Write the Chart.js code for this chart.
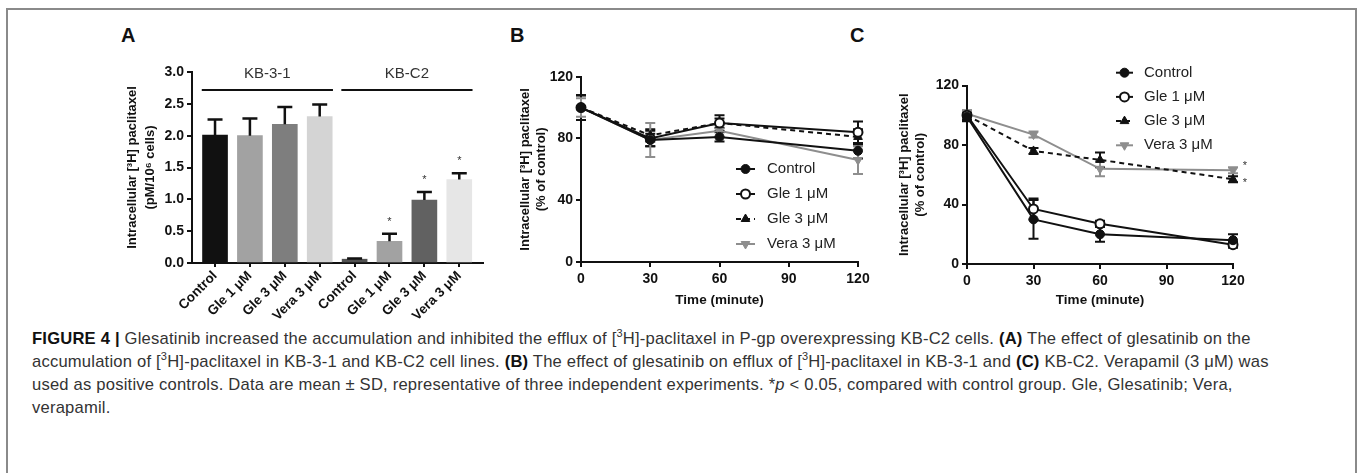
<!DOCTYPE html>
<html>
<head>
<meta charset="utf-8">
<script src="https://cdn.jsdelivr.net/npm/chart.js@4.4.1/dist/chart.umd.min.js"></script>
<style>
  html, body { margin: 0; padding: 0; background: #fff; }
  body { width: 1358px; height: 473px; overflow: hidden; position: relative; font-family: "Liberation Sans", Arial, sans-serif; }
  .frame { position: absolute; left: 6px; top: 8px; width: 1347px; height: 600px; border: 2px solid #8a8a8a; border-bottom: none; }
  .panel-label { position: absolute; font-weight: bold; font-size: 20px; line-height: 20px; color: #111; }
  canvas { position: absolute; }
  .caption { position: absolute; left: 32px; top: 327px; font-size: 16.6px; letter-spacing: 0.2px; line-height: 23px; color: #333; white-space: nowrap; }
  .caption b { color: #111; }
  .caption sup { font-size: 11px; line-height: 0; }
</style>
</head>
<body>
<div class="frame"></div>
<div class="panel-label" style="left:121px;top:25px">A</div>
<div class="panel-label" style="left:510px;top:25px">B</div>
<div class="panel-label" style="left:850px;top:25px">C</div>
<canvas id="chartA" width="390" height="290" style="left:110px;top:30px"></canvas>
<canvas id="chartB" width="375" height="290" style="left:505px;top:30px"></canvas>
<canvas id="chartC" width="440" height="290" style="left:890px;top:30px"></canvas>
<div class="caption">
  <div><b>FIGURE 4 |</b> Glesatinib increased the accumulation and inhibited the efflux of [<sup>3</sup>H]-paclitaxel in P-gp overexpressing KB-C2 cells. <b>(A)</b> The effect of glesatinib on the</div>
  <div>accumulation of [<sup>3</sup>H]-paclitaxel in KB-3-1 and KB-C2 cell lines. <b>(B)</b> The effect of glesatinib on efflux of [<sup>3</sup>H]-paclitaxel in KB-3-1 and <b>(C)</b> KB-C2. Verapamil (3 μM) was</div>
  <div>used as positive controls. Data are mean ± SD, representative of three independent experiments. *<i>p</i> &lt; 0.05, compared with control group. Gle, Glesatinib; Vera,</div>
  <div>verapamil.</div>
</div>
<script>
const FONT = '"Liberation Sans", Arial, sans-serif';

// panel A: accumulation
const accumLabels = ['Control', 'Gle 1 μM', 'Gle 3 μM', 'Vera 3 μM', 'Control', 'Gle 1 μM', 'Gle 3 μM', 'Vera 3 μM'];
const cellLines = ['KB-3-1', 'KB-C2'];
const accumMeans = [2.01, 2.00, 2.18, 2.30, 0.06, 0.34, 0.99, 1.31];
const accumSD = [0.245, 0.27, 0.27, 0.19, 0.01, 0.12, 0.125, 0.10];
const accumSignif = [0, 0, 0, 0, 0, 1, 1, 1];
const barColors = ['#111111', '#a2a2a2', '#7e7e7e', '#d4d4d4', '#525252', '#a2a2a2', '#616161', '#e6e6e6'];
const yTicksA = [0, 0.5, 1.0, 1.5, 2.0, 2.5, 3.0];

// panels B and C: efflux over time
const seriesNames = ['Control', 'Gle 1 μM', 'Gle 3 μM', 'Vera 3 μM'];
const timePoints = [0, 30, 60, 120];
const timeTicks = [0, 30, 60, 90, 120];
const percentTicks = [0, 40, 80, 120];

const effluxB_control = [100, 79, 81, 72];
const effluxB_gle1 = [100, 80, 90, 84];
const effluxB_gle3 = [100, 82, 90, 81];
const effluxB_vera = [100, 79, 85, 66];
const effluxB_controlSD = [8, 4, 3, 5];
const effluxB_gle1SD = [8, 5, 5, 7];
const effluxB_gle3SD = [8, 4, 3, 5];
const effluxB_veraSD = [6, 11, 4, 9];

const effluxC_control = [99, 30, 20, 16];
const effluxC_gle1 = [100, 37, 27, 13];
const effluxC_gle3 = [100, 76, 70, 57];
const effluxC_vera = [101, 87, 64, 63];
const effluxC_controlSD = [3, 13, 5, 4];
const effluxC_gle1SD = [3, 7, 2, 2];
const effluxC_gle3SD = [3, 2, 5, 2];
const effluxC_veraSD = [2, 2, 5, 2];
const effluxC_signif = [0, 0, 0, 1];

// ---- plugins ----
function drawErrors(chart, opts) {
  const ctx = chart.ctx;
  const yScale = chart.scales.y;
  chart.data.datasets.forEach((ds, i) => {
    if (!ds.errors) return;
    const meta = chart.getDatasetMeta(i);
    ctx.save();
    ctx.strokeStyle = ds.errorColor || ds.borderColor;
    ctx.lineWidth = opts.lineWidth;
    meta.data.forEach((el, j) => {
      const sd = ds.errors[j];
      if (!sd) return;
      const mean = ds.data[j].y;
      const yTop = yScale.getPixelForValue(mean + sd);
      const yBot = yScale.getPixelForValue(opts.upperOnly ? mean : mean - sd);
      const half = opts.capWidth / 2;
      ctx.beginPath();
      ctx.moveTo(el.x, yBot);
      ctx.lineTo(el.x, yTop);
      ctx.moveTo(el.x - half, yTop);
      ctx.lineTo(el.x + half, yTop);
      if (!opts.upperOnly) {
        ctx.moveTo(el.x - half, yBot);
        ctx.lineTo(el.x + half, yBot);
      }
      ctx.stroke();
    });
    ctx.restore();
  });
}

const errorBars = {
  id: 'errorBars',
  beforeDatasetsDraw(chart, args, opts) { if (opts.under) drawErrors(chart, opts); },
  afterDatasetsDraw(chart, args, opts) { if (!opts.under) drawErrors(chart, opts); }
};

const starMarks = {
  id: 'starMarks',
  afterDatasetsDraw(chart, args, opts) {
    const ctx = chart.ctx;
    const yScale = chart.scales.y;
    chart.data.datasets.forEach((ds, i) => {
      if (!ds.stars) return;
      const meta = chart.getDatasetMeta(i);
      meta.data.forEach((el, j) => {
        if (!ds.stars[j]) return;
        let x, y;
        if (opts.above) {
          x = el.x;
          y = yScale.getPixelForValue(ds.data[j].y + ds.errors[j]) - opts.gap;
        } else {
          x = el.x + opts.dx;
          y = el.y + (ds.starDy || 0);
        }
        ctx.save();
        ctx.fillStyle = opts.color;
        ctx.font = opts.font;
        ctx.textAlign = 'center';
        ctx.textBaseline = 'middle';
        ctx.fillText('*', x, y);
        ctx.restore();
      });
    });
  }
};

const groupBrackets = {
  id: 'groupBrackets',
  afterDraw(chart, args, opts) {
    const ctx = chart.ctx;
    const { x, y } = chart.scales;
    opts.groups.forEach(g => {
      const x0 = x.getPixelForValue(g.from - opts.overhang);
      const x1 = x.getPixelForValue(g.to + opts.overhang);
      ctx.save();
      ctx.strokeStyle = '#111';
      ctx.lineWidth = 2;
      ctx.beginPath();
      ctx.moveTo(x0, y.top + opts.lineOffset);
      ctx.lineTo(x1, y.top + opts.lineOffset);
      ctx.stroke();
      ctx.fillStyle = '#333';
      ctx.font = opts.font;
      ctx.textAlign = 'center';
      ctx.textBaseline = 'middle';
      ctx.fillText(g.name, (x0 + x1) / 2, y.top + opts.textOffset);
      ctx.restore();
    });
  }
};

const lineLegend = {
  id: 'lineLegend',
  afterDraw(chart, args, opts) {
    const ctx = chart.ctx;
    chart.data.datasets.forEach((ds, i) => {
      const yy = opts.y + i * opts.rowGap;
      ctx.save();
      ctx.strokeStyle = ds.borderColor;
      ctx.lineWidth = ds.borderWidth;
      ctx.setLineDash(ds.borderDash || []);
      ctx.beginPath();
      ctx.moveTo(opts.x, yy);
      ctx.lineTo(opts.x + opts.lineLen, yy);
      ctx.stroke();
      ctx.setLineDash([]);
      ctx.fillStyle = ds.pointBackgroundColor;
      ctx.strokeStyle = ds.pointBorderColor;
      ctx.lineWidth = ds.pointBorderWidth;
      Chart.helpers.drawPoint(ctx, {
        pointStyle: ds.pointStyle, radius: ds.pointRadius,
        rotation: ds.pointRotation || 0, borderWidth: ds.pointBorderWidth
      }, opts.x + opts.lineLen / 2, yy);
      ctx.fillStyle = opts.color;
      ctx.font = opts.font;
      ctx.textBaseline = 'middle';
      ctx.fillText(ds.label, opts.x + opts.textGap, yy);
      ctx.restore();
    });
  }
};

// ---- shared axis bits ----
const tickFont = { family: FONT, size: 14, weight: 'bold' };
const titleFont = { family: FONT, size: 13, weight: 'bold', lineHeight: 1.3 };
const axisGrid = { display: true, drawOnChartArea: false, drawTicks: true, tickLength: 5, color: '#111', lineWidth: 2 };
const axisBorder = { display: true, color: '#111', width: 2 };
const fixedTicks = list => scale => { scale.ticks = list.map(v => ({ value: v })); };
// keep the plot area where the layout puts it, whatever the tick labels overhang
const fixedHeight = h => s => { s.height = h; s.paddingLeft = 0; s.paddingRight = 0; };

// ---- A ----
new Chart(document.getElementById('chartA'), {
  type: 'bar',
  data: {
    datasets: [{
      data: accumMeans.map((v, i) => ({ x: i, y: v })),
      errors: accumSD,
      stars: accumSignif,
      backgroundColor: barColors,
      errorColor: '#111',
      barThickness: 25
    }]
  },
  options: {
    responsive: false,
    animation: false,
    layout: { padding: { top: 42, right: 17, left: 0, bottom: 0 } },
    plugins: {
      legend: { display: false },
      tooltip: { enabled: false },
      errorBars: { lineWidth: 2.5, capWidth: 15, upperOnly: true },
      starMarks: { above: true, gap: 12, color: '#333', font: '11px ' + FONT },
      groupBrackets: {
        groups: cellLines.map((name, g) => ({ name, from: g * 4, to: g * 4 + 3 })),
        overhang: 0.38, lineOffset: 18, textOffset: 2, font: '15px ' + FONT
      }
    },
    scales: {
      x: {
        type: 'linear', min: -0.66, max: 7.68, offset: false,
        afterBuildTicks: fixedTicks(accumLabels.map((_, i) => i)),
        ticks: {
          autoSkip: false, minRotation: 45, maxRotation: 45, padding: 1,
          font: { family: FONT, size: 13.5, weight: 'bold' }, color: '#111',
          callback: v => accumLabels[Math.round(v)]
        },
        grid: Object.assign({}, axisGrid, { tickLength: 4, offset: false }),
        border: axisBorder,
        afterFit: fixedHeight(57)
      },
      y: {
        min: 0, max: 3,
        afterBuildTicks: fixedTicks(yTicksA),
        ticks: { font: tickFont, color: '#111', padding: 3, callback: v => v.toFixed(1) },
        grid: axisGrid,
        border: axisBorder,
        title: {
          display: true, color: '#111', font: Object.assign({}, titleFont, { lineHeight: 1.45 }),
          text: ['Intracellular [³H] paclitaxel', '(pM/10⁶ cells)'],
          padding: { top: 12.5, bottom: 0 }
        },
        afterFit: s => { s.width = 82; }
      }
    }
  },
  plugins: [errorBars, starMarks, groupBrackets]
});

// ---- B and C ----
const seriesStyles = [
  { borderColor: '#111', pointStyle: 'circle', pointBackgroundColor: '#111', pointBorderColor: '#111', pointBorderWidth: 1, pointRadius: 4.5 },
  { borderColor: '#111', pointStyle: 'circle', pointBackgroundColor: '#fff', pointBorderColor: '#111', pointBorderWidth: 2, pointRadius: 4.5 },
  { borderColor: '#111', borderDash: [5, 4], pointStyle: 'triangle', pointBackgroundColor: '#111', pointBorderColor: '#111', pointBorderWidth: 1, pointRadius: 5 },
  { borderColor: '#8e8e8e', pointStyle: 'triangle', pointRotation: 180, pointBackgroundColor: '#8e8e8e', pointBorderColor: '#8e8e8e', pointBorderWidth: 1, pointRadius: 5 }
];

function lineSeries(i, values, sd, extra) {
  return Object.assign({
    label: seriesNames[i],
    data: timePoints.map((t, k) => ({ x: t, y: values[k] })),
    errors: sd,
    borderWidth: 2,
    tension: 0,
    clip: false
  }, seriesStyles[i], extra || {});
}

function effluxOptions(o) {
  return {
    responsive: false,
    animation: false,
    layout: { padding: { top: o.top, right: o.right, left: 0, bottom: 0 } },
    plugins: {
      legend: { display: false },
      tooltip: { enabled: false },
      errorBars: { lineWidth: 2, capWidth: 10, upperOnly: false, under: true },
      starMarks: { above: false, dx: 12, color: '#333', font: '11px ' + FONT },
      lineLegend: { x: o.legendX, y: o.legendY, rowGap: o.rowGap, lineLen: o.lineLen, textGap: o.textGap, color: '#222', font: '15px ' + FONT }
    },
    scales: {
      x: {
        type: 'linear', min: 0, max: 120,
        afterBuildTicks: fixedTicks(timeTicks),
        ticks: { font: tickFont, color: '#111', padding: 4 },
        grid: axisGrid,
        border: axisBorder,
        title: { display: true, text: 'Time (minute)', color: '#111', font: { family: FONT, size: 13.5, weight: 'bold' }, padding: { top: 0, bottom: 12 } },
        afterFit: fixedHeight(o.xHeight)
      },
      y: {
        min: 0, max: 120,
        afterBuildTicks: fixedTicks(percentTicks),
        ticks: { font: tickFont, color: '#111', padding: 3 },
        grid: axisGrid,
        border: axisBorder,
        title: {
          display: true, color: '#111', font: titleFont,
          text: ['Intracellular [³H] paclitaxel', '(% of control)'],
          padding: { top: o.titlePad, bottom: 0 }
        },
        afterFit: s => { s.width = o.yWidth; }
      }
    }
  };
}

new Chart(document.getElementById('chartB'), {
  type: 'line',
  data: {
    datasets: [
      lineSeries(0, effluxB_control, effluxB_controlSD),
      lineSeries(1, effluxB_gle1, effluxB_gle1SD),
      lineSeries(2, effluxB_gle3, effluxB_gle3SD),
      lineSeries(3, effluxB_vera, effluxB_veraSD)
    ]
  },
  options: effluxOptions({
    top: 46.7, right: 22, yWidth: 76, xHeight: 58, titlePad: 11.5,
    legendX: 231, legendY: 139, rowGap: 25, lineLen: 19, textGap: 31
  }),
  plugins: [errorBars, starMarks, lineLegend]
});

new Chart(document.getElementById('chartC'), {
  type: 'line',
  data: {
    datasets: [
      lineSeries(0, effluxC_control, effluxC_controlSD),
      lineSeries(1, effluxC_gle1, effluxC_gle1SD),
      lineSeries(2, effluxC_gle3, effluxC_gle3SD, { stars: effluxC_signif, starDy: 4 }),
      lineSeries(3, effluxC_vera, effluxC_veraSD, { stars: effluxC_signif, starDy: -4 })
    ]
  },
  options: effluxOptions({
    top: 55.5, right: 97, yWidth: 77, xHeight: 56, titlePad: 5.5,
    legendX: 226, legendY: 42.7, rowGap: 24.2, lineLen: 17, textGap: 28
  }),
  plugins: [errorBars, starMarks, lineLegend]
});
</script>
</body>
</html>
